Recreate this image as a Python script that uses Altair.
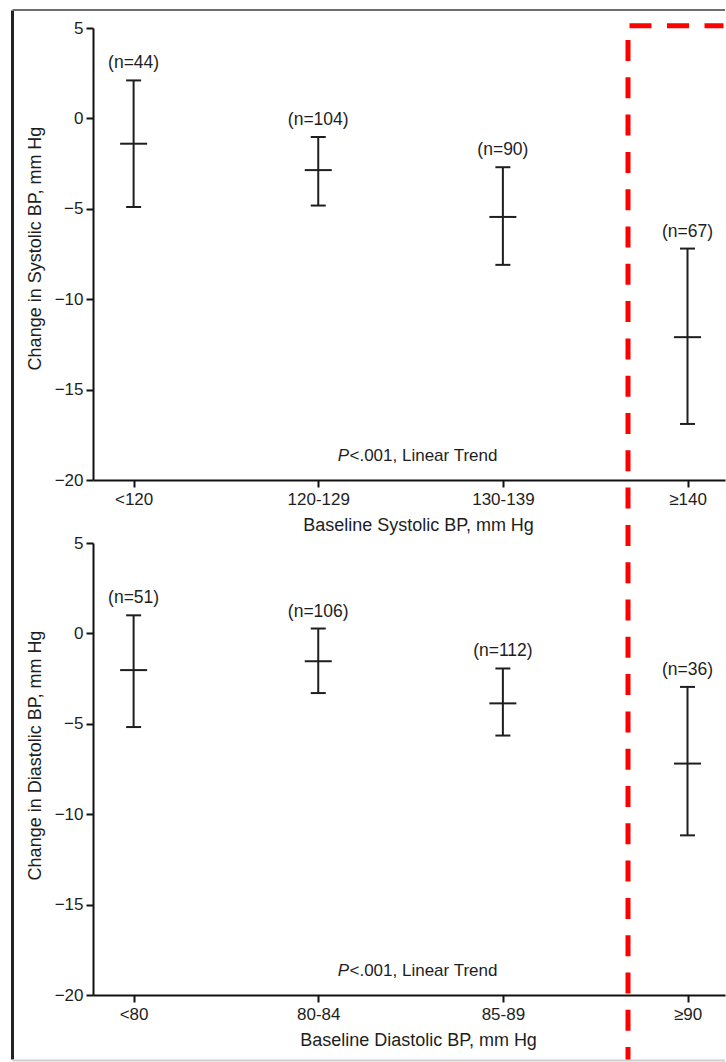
import altair as alt
import pandas as pd

# ---- data ----
sys_cats = ["<120", "120-129", "130-139", "≥140"]
sys_mean = [-1.4, -2.86, -5.45, -12.1]
sys_lower = [-4.9, -4.82, -8.1, -16.9]
sys_upper = [2.1, -1.03, -2.7, -7.2]
sys_n = ["(n=44)", "(n=104)", "(n=90)", "(n=67)"]

dia_cats = ["<80", "80-84", "85-89", "≥90"]
dia_mean = [-2.03, -1.54, -3.87, -7.2]
dia_lower = [-5.18, -3.3, -5.65, -11.17]
dia_upper = [1.0, 0.27, -1.94, -2.96]
dia_n = ["(n=51)", "(n=106)", "(n=112)", "(n=36)"]

y_ticks = [5, 0, -5, -10, -15, -20]
p_label = ["P"]
trend_label = ["<.001, Linear Trend"]

FONT = "Liberation Sans"
INK = "#1e1e1e"
W, H = 632, 452


def panel(cats, mean, lower, upper, ns, xtitle, ytitle, ytitle_y, decor=None):
    df = pd.DataFrame({"cat": cats, "mean": mean, "lower": lower,
                       "upper": upper, "n": ns})
    xenc = alt.X("cat:N", sort=cats,
                 scale=alt.Scale(type="point", padding=0.2115, align=0.52),
                 axis=alt.Axis(title=xtitle, labelAngle=0, labelPadding=4,
                               titleX=325, titleY=45, titleBaseline="middle"))
    yscale = alt.Scale(domain=[-20, 5], nice=False, zero=False)
    yaxis = alt.Axis(title=ytitle, values=y_ticks, labelPadding=3,
                     titleAngle=270, titleX=-58, titleY=ytitle_y,
                     titleBaseline="middle", titleAlign="center")
    base = alt.Chart(df)
    whisk = base.mark_rule(color=INK, strokeWidth=2).encode(
        x=xenc, y=alt.Y("lower:Q", scale=yscale, axis=yaxis), y2="upper:Q")
    cap_lo = base.mark_tick(color=INK, size=15, thickness=2, opacity=1).encode(
        x=xenc, y=alt.Y("lower:Q", scale=yscale))
    cap_hi = base.mark_tick(color=INK, size=15, thickness=2, opacity=1).encode(
        x=xenc, y=alt.Y("upper:Q", scale=yscale))
    mid = base.mark_tick(color=INK, size=27, thickness=2, opacity=1).encode(
        x=xenc, y=alt.Y("mean:Q", scale=yscale))
    nlab = base.mark_text(font=FONT, fontSize=17.5, color=INK, dy=-17,
                          baseline="middle").encode(
        x=xenc, y=alt.Y("upper:Q", scale=yscale), text="n:N")
    ptxt = alt.Chart(pd.DataFrame({"t": p_label})).mark_text(
        font=FONT, fontSize=17, fontStyle="italic", color=INK,
        align="right", baseline="middle").encode(
        x=alt.value(256), y=alt.value(428), text="t:N")
    ttxt = alt.Chart(pd.DataFrame({"t": trend_label})).mark_text(
        font=FONT, fontSize=17, color=INK,
        align="left", baseline="middle").encode(
        x=alt.value(256.5), y=alt.value(428), text="t:N")
    layers = [whisk, cap_lo, cap_hi, mid, nlab, ptxt, ttxt]
    if decor:
        layers = decor + layers
    return alt.layer(*layers).properties(width=W, height=H)


one = pd.DataFrame({"k": [0]})
frame_left = alt.Chart(one).mark_rule(color="#222222", strokeWidth=3).encode(
    x=alt.value(-80.5), y=alt.value(-17.5), y2=alt.value(1031.5))
frame_top = alt.Chart(one).mark_rule(color="#6e6e6e", strokeWidth=2).encode(
    x=alt.value(-80.5), x2=alt.value(632), y=alt.value(-18))
frame_bottom = alt.Chart(one).mark_rule(color="#cfcfcf", strokeWidth=2).encode(
    x=alt.value(-80.5), x2=alt.value(632), y=alt.value(1032.5))
red_v = alt.Chart(one).mark_rule(color="#ff0000", strokeWidth=5,
                                 strokeDash=[21, 16.3]).encode(
    x=alt.value(535), y=alt.value(12), y2=alt.value(1031.5))
red_h = alt.Chart(one).mark_rule(color="#ff0000", strokeWidth=5,
                                 strokeDash=[22, 15.5]).encode(
    x=alt.value(536.5), x2=alt.value(630.5), y=alt.value(-2.3))

top = panel(sys_cats, sys_mean, sys_lower, sys_upper, sys_n,
            "Baseline Systolic BP, mm Hg", "Change in Systolic BP, mm Hg", 220,
            decor=[frame_left, frame_top, frame_bottom, red_v, red_h])
bottom = panel(dia_cats, dia_mean, dia_lower, dia_upper, dia_n,
               "Baseline Diastolic BP, mm Hg", "Change in Diastolic BP, mm Hg", 212)

chart = alt.vconcat(top, bottom, spacing=63, bounds="flush").properties(
    padding={"left": 11, "top": 9, "right": 0, "bottom": 0},
    background="white",
).configure_view(stroke=None).configure_axis(
    grid=False, domainColor="#111111", domainWidth=2, tickColor="#111111",
    tickWidth=2, tickSize=7, labelFont=FONT, labelFontSize=17,
    labelColor=INK, titleFont=FONT, titleFontSize=18, titleFontWeight="normal",
    titleColor=INK,
)

chart.save("out.html", embed_options={"renderer": "svg", "actions": False})
